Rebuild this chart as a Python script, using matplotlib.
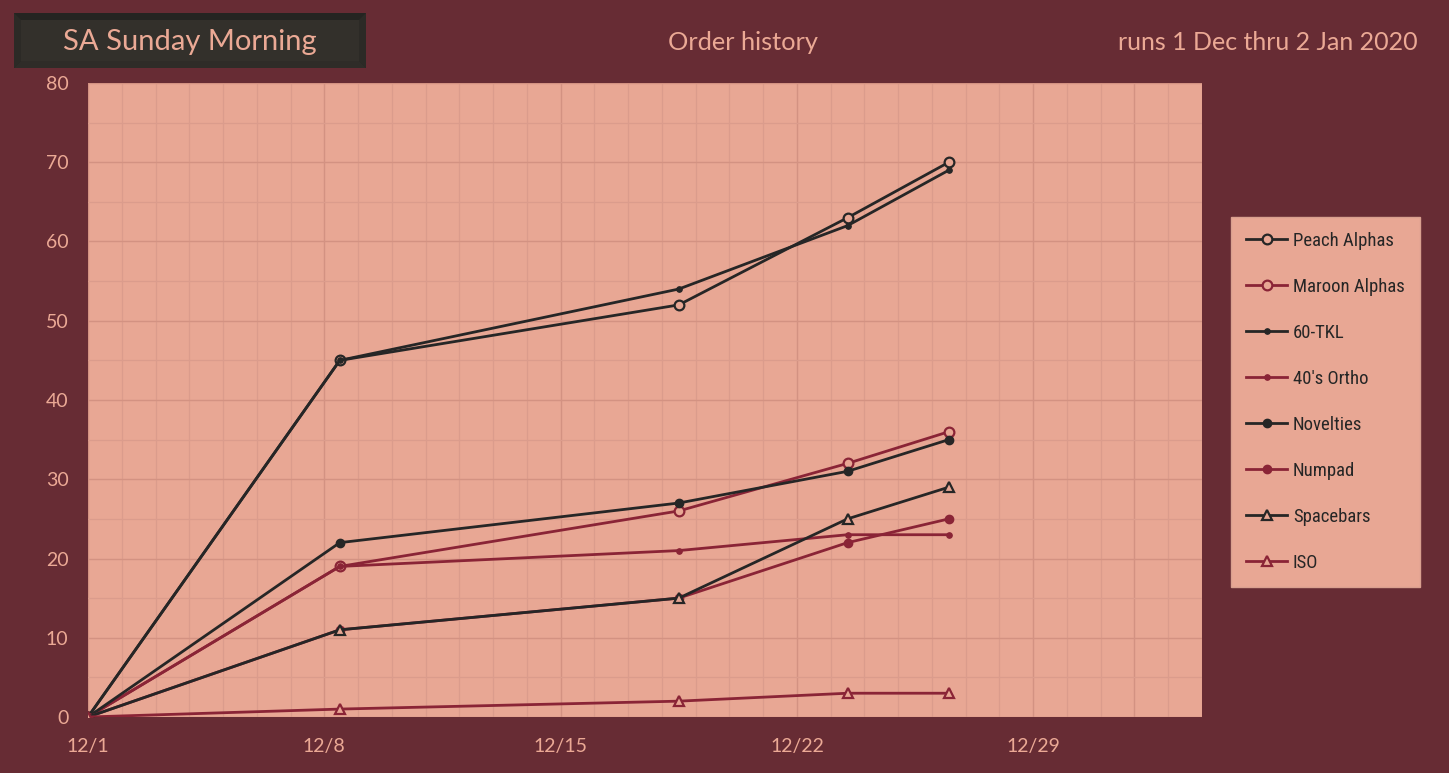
import matplotlib
matplotlib.use("Agg")
import matplotlib.pyplot as plt
import matplotlib.dates as mdates
from matplotlib.ticker import MultipleLocator, FuncFormatter
from matplotlib.patches import Rectangle, Polygon
from matplotlib import font_manager
import pandas as pd

# ---- data ----
dates = ["2019-12-01 00:00", "2019-12-08 11:00", "2019-12-18 12:00",
         "2019-12-23 12:00", "2019-12-26 12:00"]
peach_alphas = [0, 45, 52, 63, 70]
maroon_alphas = [0, 19, 26, 32, 36]
tkl_60 = [0, 45, 54, 62, 69]
ortho_40 = [0, 19, 21, 23, 23]
novelties = [0, 22, 27, 31, 35]
numpad = [0, 11, 15, 22, 25]
spacebars = [0, 11, 15, 25, 29]
iso = [0, 1, 2, 3, 3]
series_names = ["Peach Alphas", "Maroon Alphas", "60-TKL", "40's Ortho",
                "Novelties", "Numpad", "Spacebars", "ISO"]
title_text = "SA Sunday Morning"
chart_title = "Order history"
run_text = "runs 1 Dec thru 2 Jan 2020"

# ---- style ----
BG = "#672C34"
PLOT_BG = "#E8A794"
TXT = "#EBA995"
BLACK = "#262626"
MAROON = "#8A2436"
GRID_MINOR = "#DB9C8C"
GRID_MAJOR = "#D39282"


def pick_condensed():
    cands = []
    for f in font_manager.fontManager.ttflist:
        nm = (f.name + " " + f.fname).lower()
        if f.weight not in (400, "normal", "regular") or f.style != "normal":
            continue
        if "narrow" in nm or "condensed" in nm or f.stretch in ("condensed", "semi-condensed"):
            if "bold" in nm or "italic" in nm or "oblique" in nm or "light" in nm:
                continue
            cands.append(f)
    order = ["oswald", "roboto condensed", "liberation sans narrow", "open sans",
             "noto sans", "dejavu sans"]
    for key in order:
        for f in cands:
            if key in f.name.lower():
                return font_manager.FontProperties(fname=f.fname)
    if cands:
        return font_manager.FontProperties(fname=cands[0].fname)
    return font_manager.FontProperties(family="DejaVu Sans")


x = pd.to_datetime(dates)

fig = plt.figure(figsize=(14.49, 7.73), dpi=100, facecolor=BG)
W, H = 1449, 773
ax = fig.add_axes([88 / W, 1 - 717 / H, (1202 - 88) / W, (717 - 83) / H])
ax.set_facecolor(PLOT_BG)
for s in ax.spines.values():
    s.set_visible(False)

styles = [
    (peach_alphas, BLACK, "o", 7, PLOT_BG, 1.6),
    (maroon_alphas, MAROON, "o", 7, PLOT_BG, 1.6),
    (tkl_60, BLACK, "o", 4, BLACK, 0.8),
    (ortho_40, MAROON, "o", 4, MAROON, 0.8),
    (novelties, BLACK, "o", 6, BLACK, 1.0),
    (numpad, MAROON, "o", 6, MAROON, 1.0),
    (spacebars, BLACK, "^", 7.5, PLOT_BG, 1.6),
    (iso, MAROON, "^", 7.5, PLOT_BG, 1.6),
]
handles = []
for i, ((vals, col, mk, ms, mfc, mew), name) in enumerate(zip(styles, series_names)):
    h, = ax.plot(x, vals, color=col, lw=2.0, marker=mk, ms=ms, mfc=mfc,
                 mec=col, mew=mew, label=name, zorder=3 + i * 0.1)
    handles.append(h)

ax.set_xlim(pd.Timestamp("2019-12-01"), pd.Timestamp("2020-01-03"))
ax.set_ylim(0, 80)

ax.xaxis.set_major_locator(mdates.DayLocator(bymonthday=[1, 8, 15, 22, 29]))
ax.xaxis.set_minor_locator(mdates.DayLocator())


def fmt(v, pos):
    d = mdates.num2date(v)
    if d.month == 12 and d.year == 2019:
        return f"{d.month}/{d.day}"
    return ""


ax.xaxis.set_major_formatter(FuncFormatter(fmt))
ax.yaxis.set_major_locator(MultipleLocator(10))
ax.yaxis.set_minor_locator(MultipleLocator(5))
ax.grid(which="major", color=GRID_MAJOR, lw=1.0, zorder=0)
ax.grid(which="minor", color=GRID_MINOR, lw=0.9, zorder=0)
ax.set_axisbelow(True)
ax.tick_params(which="both", length=0, colors=TXT, labelsize=14)
ax.tick_params(axis="y", pad=14)
ax.tick_params(axis="x", pad=15)
for lbl in ax.get_xticklabels() + ax.get_yticklabels():
    lbl.set_family("Lato")

legfont = pick_condensed()
legfont.set_size(13.5)
leg = ax.legend(handles=handles, loc="upper left",
                bbox_to_anchor=(1231 / W, 1 - 217 / H), bbox_transform=fig.transFigure,
                frameon=True, facecolor=PLOT_BG, edgecolor="#D9A08F", framealpha=1,
                fancybox=False, borderpad=0.8, labelspacing=1.49, handlelength=2.2,
                handletextpad=0.3, borderaxespad=0, prop=legfont)
leg.get_frame().set_linewidth(1.0)
for t in leg.get_texts():
    t.set_color(BLACK)

# ---- title box with bevel ----
bx0, by0, bx1, by1 = 14, 13, 366, 68
inset = 7


def fx(px):
    return px / W


def fy(py):
    return 1 - py / H


fig.patches.append(Rectangle((fx(bx0), fy(by1)), fx(bx1) - fx(bx0), fy(by0) - fy(by1),
                             transform=fig.transFigure, facecolor="#252421",
                             edgecolor="none", zorder=1))
fig.patches.append(Polygon([(fx(bx0), fy(by0)), (fx(bx0 + inset), fy(by0 + inset)),
                            (fx(bx0 + inset), fy(by1 - inset)), (fx(bx0), fy(by1))],
                           closed=True, transform=fig.transFigure,
                           facecolor="#2C2A26", edgecolor="none", zorder=1.5))
fig.patches.append(Polygon([(fx(bx1), fy(by0)), (fx(bx1 - inset), fy(by0 + inset)),
                            (fx(bx1 - inset), fy(by1 - inset)), (fx(bx1), fy(by1))],
                           closed=True, transform=fig.transFigure,
                           facecolor="#2C2A26", edgecolor="none", zorder=1.5))
fig.patches.append(Polygon([(fx(bx0), fy(by1)), (fx(bx0 + inset), fy(by1 - inset)),
                            (fx(bx1 - inset), fy(by1 - inset)), (fx(bx1), fy(by1))],
                           closed=True, transform=fig.transFigure,
                           facecolor="#2F2C28", edgecolor="none", zorder=1.5))
fig.patches.append(Rectangle((fx(bx0 + inset), fy(by1 - inset)),
                             fx(bx1 - inset) - fx(bx0 + inset),
                             fy(by0 + inset) - fy(by1 - inset),
                             transform=fig.transFigure, facecolor="#33302B",
                             edgecolor="none", zorder=2))

fig.text(fx(190), fy(42), title_text, ha="center", va="center", color=TXT,
         fontsize=21, family="Lato", zorder=3)
fig.text(fx(743), fy(43), chart_title, ha="center", va="center", color=TXT,
         fontsize=18.3, family="Lato")
fig.text(fx(1418), fy(43), run_text, ha="right", va="center", color=TXT,
         fontsize=18, family="Lato")

fig.savefig("out.png", dpi=100, facecolor=BG)
